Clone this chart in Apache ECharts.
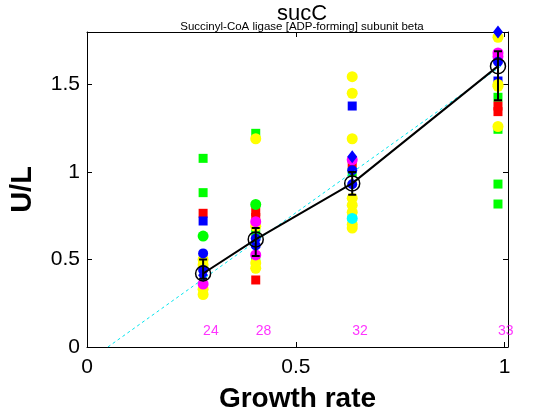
<!DOCTYPE html>
<html>
<head>
<meta charset="utf-8">
<script src="https://cdn.jsdelivr.net/npm/echarts@6/dist/echarts.min.js"></script>
<style>
  html, body { margin: 0; padding: 0; background: #fff; }
  #chart { width: 560px; height: 420px; }
</style>
</head>
<body>
<div id="chart"></div>
<script>
// growth rate of each sample group
const rates = [0.278, 0.404, 0.635, 0.984]
const groupLabels = ['24', '28', '32', '33']

// replicate measurements, [growth rate, U/L]
const yellowCircles = [
  [0.278, 0.50], [0.278, 0.47], [0.278, 0.33], [0.278, 0.30],
  [0.404, 1.19], [0.404, 0.69], [0.404, 0.48], [0.404, 0.45],
  [0.635, 1.545], [0.635, 1.45], [0.635, 1.19], [0.635, 0.85], [0.635, 0.81],
  [0.635, 0.77], [0.635, 0.70], [0.635, 0.68],
  [0.984, 1.77], [0.984, 1.50], [0.984, 1.49], [0.984, 1.26],
]
const greenCircles = [
  [0.278, 0.634], [0.404, 0.815],
]
const greenSquares = [
  [0.278, 1.078], [0.278, 0.882],
  [0.404, 1.221], [0.404, 0.66], [0.404, 0.51],
  [0.635, 1.00], [0.635, 0.75],
  [0.984, 1.427], [0.984, 1.244], [0.984, 0.931], [0.984, 0.817],
]
const redSquares = [
  [0.278, 0.764],
  [0.404, 0.773], [0.404, 0.74], [0.404, 0.383],
  [0.635, 1.05],
  [0.984, 1.377], [0.984, 1.345],
]
const blueSquares = [
  [0.278, 0.72], [0.635, 1.377], [0.984, 1.52],
]
const blueCircles = [
  [0.278, 0.535], [0.278, 0.44],
  [0.404, 0.62], [0.404, 0.58],
  [0.635, 1.01], [0.635, 0.93],
  [0.984, 1.63],
]
const blueDiamonds = [
  [0.278, 0.41], [0.635, 1.087], [0.984, 1.80],
]
const magentaCircles = [
  [0.278, 0.36],
  [0.404, 0.716], [0.404, 0.526],
  [0.635, 1.07],
  [0.984, 1.68], [0.984, 1.66],
]
const cyanCircles = [
  [0.635, 0.735],
]

// group means and error bar ends
const means = [0.42, 0.615, 0.935, 1.605]
const errLow = [0.39, 0.52, 0.87, 1.41]
const errHigh = [0.50, 0.68, 1.00, 1.69]

// linear fit
const fitLine = [[0.05, 0], [0.995, 1.611]]

const labelY = 0.09

const chart = echarts.init(document.getElementById('chart'))

const font = 'Liberation Sans, Arial, Helvetica, sans-serif'

function dots(data, color, symbol, size) {
  return {
    type: 'scatter',
    data: data,
    symbol: symbol,
    symbolSize: size,
    itemStyle: { color: color, opacity: 1 },
    silent: true,
  }
}

const meanPoints = rates.map((r, i) => [r, means[i]])
const errData = rates.map((r, i) => [r, errLow[i], errHigh[i]])
const labelData = rates.map((r, i) => [r, labelY, groupLabels[i]])

const boxAxis = {
  type: 'value',
  axisLine: { show: true, onZero: false, lineStyle: { color: '#000', width: 1 } },
  axisTick: { show: true, inside: true, length: 5, lineStyle: { color: '#000' } },
  splitLine: { show: false },
}

const option = {
  animation: false,
  title: [
    {
      text: 'sucC',
      left: 297,
      top: -2,
      textAlign: 'center',
      textStyle: { fontFamily: font, fontSize: 22, fontWeight: 'normal', color: '#000' },
    },
    {
      text: 'Succinyl-CoA ligase [ADP-forming] subunit beta',
      left: 297,
      top: 16,
      textAlign: 'center',
      textStyle: { fontFamily: font, fontSize: 11.5, fontWeight: 'normal', color: '#000' },
    },
  ],
  grid: { left: 87, right: 52, top: 32, bottom: 73, outerBoundsMode: 'none' },
  xAxis: [
    {
      ...boxAxis,
      min: 0,
      max: 1.008,
      interval: 0.5,
      name: 'Growth rate',
      nameLocation: 'middle',
      nameGap: 38,
      nameTextStyle: { fontFamily: font, fontSize: 28, fontWeight: 'bold', color: '#000' },
      axisLabel: {
        fontFamily: font, fontSize: 21, color: '#000', margin: 10, showMaxLabel: false,
        formatter: v => (Math.abs(v * 2 - Math.round(v * 2)) < 1e-6 ? String(v) : ''),
      },
    },
    {
      ...boxAxis,
      position: 'top',
      min: 0,
      max: 1.008,
      interval: 0.5,
      axisLabel: { show: false },
    },
  ],
  yAxis: [
    {
      ...boxAxis,
      min: 0,
      max: 1.8,
      interval: 0.5,
      name: 'U/L',
      nameLocation: 'middle',
      nameGap: 50,
      nameTextStyle: { fontFamily: font, fontSize: 29, fontWeight: 'bold', color: '#000' },
      axisLabel: { fontFamily: font, fontSize: 21, color: '#000', margin: 7, showMaxLabel: false },
    },
    {
      ...boxAxis,
      position: 'right',
      min: 0,
      max: 1.8,
      interval: 0.5,
      axisLabel: { show: false },
    },
  ],
  series: [
    dots(greenSquares, '#00ff00', 'rect', 9),
    dots(redSquares, '#ff0000', 'rect', 9),
    dots(blueSquares, '#0000ff', 'rect', 9),
    dots(yellowCircles, '#ffff00', 'circle', 11),
    dots(greenCircles, '#00ff00', 'circle', 11),
    dots(cyanCircles, '#00ffff', 'circle', 11),
    dots(magentaCircles, '#ff00ff', 'circle', 11),
    dots(blueCircles, '#0000ff', 'circle', 10),
    dots(blueDiamonds, '#0000ff', 'diamond', [10, 13]),
    {
      type: 'line',
      data: fitLine,
      symbol: 'none',
      lineStyle: { color: '#00e5ee', width: 1, type: [3, 3] },
      silent: true,
      z: 3,
    },
    {
      type: 'custom',
      data: errData,
      encode: { x: 0, y: [1, 2] },
      silent: true,
      z: 4,
      renderItem: (params, api) => {
        const x = api.value(0)
        const top = api.coord([x, api.value(2)])
        const bot = api.coord([x, api.value(1)])
        const w = 4
        const style = { stroke: '#000', lineWidth: 2, fill: null }
        return {
          type: 'group',
          children: [
            { type: 'line', shape: { x1: top[0], y1: top[1], x2: bot[0], y2: bot[1] }, style },
            { type: 'line', shape: { x1: top[0] - w, y1: top[1], x2: top[0] + w, y2: top[1] }, style },
            { type: 'line', shape: { x1: bot[0] - w, y1: bot[1], x2: bot[0] + w, y2: bot[1] }, style },
          ],
        }
      },
    },
    {
      type: 'line',
      data: meanPoints,
      symbol: 'circle',
      symbolSize: 15,
      showAllSymbol: true,
      itemStyle: { color: 'rgba(0,0,0,0)', borderColor: '#000', borderWidth: 1.5 },
      lineStyle: { color: '#000', width: 2 },
      silent: true,
      z: 5,
    },
    {
      type: 'scatter',
      data: labelData,
      symbolSize: 0,
      silent: true,
      z: 5,
      label: {
        show: true,
        position: 'right',
        distance: 0,
        formatter: p => p.value[2],
        fontFamily: font,
        fontSize: 14,
        color: '#ff00ff',
      },
    },
  ],
}

chart.setOption(option)
</script>
</body>
</html>
